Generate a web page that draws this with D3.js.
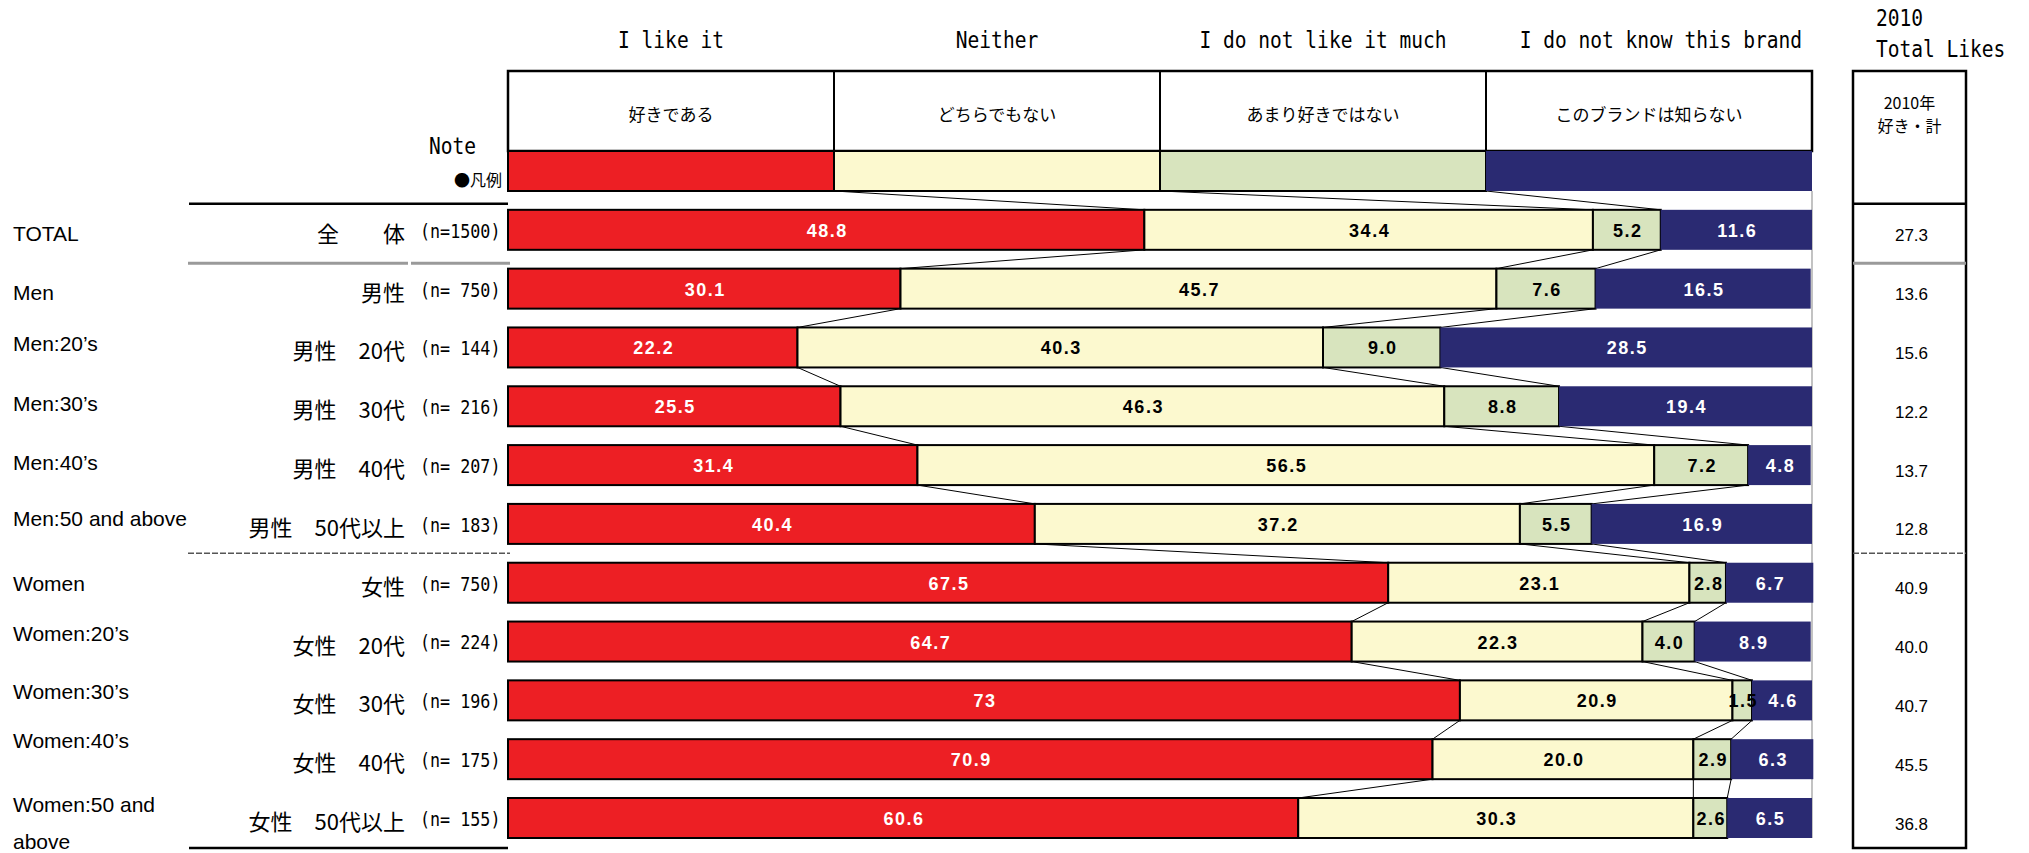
<!DOCTYPE html>
<html>
<head>
<meta charset="utf-8">
<script src="https://cdn.jsdelivr.net/npm/d3@7"></script>
<style>
  html, body { margin: 0; padding: 0; background: #fff; }
  svg { display: block; }
</style>
</head>
<body>
<svg id="chart" width="2029" height="853"></svg>
<script>
// ---- data ----
const categories   = ["I like it", "Neither", "I do not like it much", "I do not know this brand"];
const categoriesJa = ["好きである", "どちらでもない", "あまり好きではない", "このブランドは知らない"];
const groupsEn = ["TOTAL", "Men", "Men:20’s", "Men:30’s", "Men:40’s", "Men:50 and above",
                  "Women", "Women:20’s", "Women:30’s", "Women:40’s", "Women:50 and above"];
const groupsJa = ["全　　体", "男性", "男性　20代", "男性　30代", "男性　40代", "男性　50代以上",
                  "女性", "女性　20代", "女性　30代", "女性　40代", "女性　50代以上"];
const sampleSizes = [1500, 750, 144, 216, 207, 183, 750, 224, 196, 175, 155];
// shares in percent, kept as printed
const likeIt   = ["48.8", "30.1", "22.2", "25.5", "31.4", "40.4", "67.5", "64.7", "73",   "70.9", "60.6"];
const neither  = ["34.4", "45.7", "40.3", "46.3", "56.5", "37.2", "23.1", "22.3", "20.9", "20.0", "30.3"];
const dislike  = ["5.2",  "7.6",  "9.0",  "8.8",  "7.2",  "5.5",  "2.8",  "4.0",  "1.5",  "2.9",  "2.6"];
const unknown  = ["11.6", "16.5", "28.5", "19.4", "4.8",  "16.9", "6.7",  "8.9",  "4.6",  "6.3",  "6.5"];
const totalLikes2010 = ["27.3", "13.6", "15.6", "12.2", "13.7", "12.8", "40.9", "40.0", "40.7", "45.5", "36.8"];

// ---- styling / layout ----
const keys   = ["like", "neither", "dislike", "unknown"];
const colors = ["#ED1F24", "#FCF9CF", "#D8E4BE", "#2A2A72"];
const textColors = ["#fff", "#000", "#000", "#fff"];
const enDy = [4, 4, -4, -3, -3, -5, 1, -8, -9, -19, -14];
const monoFont = "'DejaVu Sans Mono', 'Liberation Mono', monospace";
const sansFont = "'Liberation Sans', Arial, sans-serif";
const jaFont = "'Noto Sans CJK JP', sans-serif";

const svg = d3.select("#chart");

const rows = groupsEn.map((g, i) => ({
  like: +likeIt[i], neither: +neither[i], dislike: +dislike[i], unknown: +unknown[i],
  labels: [likeIt[i], neither[i], dislike[i], unknown[i]]
}));
const legendRow = { like: 25, neither: 25, dislike: 25, unknown: 25 };

const x = d3.scaleLinear().domain([0, 100]).range([508, 1812]);
const y = d3.scaleBand().domain(d3.range(-1, groupsEn.length)).range([151, 838]).paddingInner(0.32).paddingOuter(0);
const bw = y.bandwidth();
const gap = y.step() - bw;

const stack = d3.stack().keys(keys);
const series = stack([legendRow, ...rows]); // index 0 = legend bar
const rowIdx = d3.range(-1, groupsEn.length);

// condensed mono helper
function monoText(sel, str, tx, ty, size, anchor) {
  return sel.append("text")
    .attr("transform", `translate(${tx},${ty}) scale(0.85,1)`)
    .attr("text-anchor", anchor || "middle")
    .attr("dominant-baseline", "central")
    .style("font-family", monoFont)
    .style("font-size", size + "px")
    .attr("fill", "#000")
    .text(str);
}

// ---- column titles ----
const gTitles = svg.append("g");
categories.forEach((c, k) => {
  const cx = k < 3 ? (x(25 * k) + x(25 * (k + 1))) / 2 : x(100);
  monoText(gTitles, c, k < 3 ? cx : x(100) - 10, 40, 23, k < 3 ? "middle" : "end");
});

// ---- header box with Japanese category names ----
const gHead = svg.append("g");
gHead.append("rect")
  .attr("x", x(0)).attr("y", 71).attr("width", x(100) - x(0)).attr("height", y(-1) - 71)
  .attr("fill", "#fff").attr("stroke", "#000").attr("stroke-width", 2.5);
[25, 50, 75].forEach(v => {
  gHead.append("line").attr("x1", x(v)).attr("x2", x(v)).attr("y1", 71).attr("y2", y(-1))
    .attr("stroke", "#000").attr("stroke-width", 2);
});
categoriesJa.forEach((c, k) => {
  gHead.append("text")
    .attr("x", (x(25 * k) + x(25 * (k + 1))) / 2).attr("y", 113)
    .attr("text-anchor", "middle").attr("dominant-baseline", "central")
    .style("font-family", jaFont).style("font-size", "17px")
    .text(c);
});

// right edge rule of the plot
svg.append("line")
  .attr("x1", x(100)).attr("x2", x(100)).attr("y1", y(-1) + bw).attr("y2", y(groupsEn.length - 1) + bw)
  .attr("stroke", "#9a9a9a").attr("stroke-width", 1.2);

// ---- connectors between stacked boundaries ----
const gConn = svg.append("g").attr("stroke", "#000").attr("stroke-width", 1);
for (let r = 0; r < rowIdx.length - 1; r++) {
  for (let k = 0; k < 3; k++) {
    gConn.append("line")
      .attr("x1", x(series[k][r][1])).attr("y1", y(rowIdx[r]) + bw)
      .attr("x2", x(series[k][r + 1][1])).attr("y2", y(rowIdx[r + 1]));
  }
}

// ---- bars ----
const gBars = svg.append("g");
series.forEach((s, k) => {
  gBars.append("g")
    .selectAll("rect")
    .data(s)
    .join("rect")
    .attr("x", d => x(d[0]))
    .attr("y", (d, i) => y(rowIdx[i]))
    .attr("width", d => x(d[1]) - x(d[0]))
    .attr("height", bw)
    .attr("fill", colors[k])
    .attr("stroke", k < 3 ? "#000" : "none")
    .attr("stroke-width", 2);
});

// value labels
series.forEach((s, k) => {
  gBars.append("g")
    .selectAll("text")
    .data(s.slice(1))
    .join("text")
    .attr("x", d => (x(d[0]) + x(d[1])) / 2 + 1)
    .attr("y", (d, i) => y(i) + bw / 2 + 1)
    .attr("text-anchor", "middle")
    .attr("dominant-baseline", "central")
    .style("font-family", sansFont)
    .style("font-weight", "bold")
    .style("font-size", "18px")
    .style("letter-spacing", "1.5px")
    .attr("fill", textColors[k])
    .text(d => d.data.labels[k]);
});

// ---- legend notes ----
monoText(svg, "Note", 476, 146, 23, "end");
svg.append("text")
  .attr("x", 502).attr("y", 179).attr("text-anchor", "end").attr("dominant-baseline", "central")
  .style("font-family", jaFont).style("font-size", "16px").text("●凡例");

// ---- row labels ----
const gLab = svg.append("g");
groupsEn.forEach((g, i) => {
  const cy = y(i) + bw / 2;
  const t = gLab.append("text")
    .attr("x", 13).attr("y", cy + enDy[i])
    .attr("dominant-baseline", "central")
    .style("font-family", sansFont).style("font-size", "21px")
    .text(g);
  // wrap long labels onto a second line
  if (t.node().getComputedTextLength() > 200) {
    const words = g.split(" ");
    const last = words.pop();
    t.text(words.join(" "));
    gLab.append("text")
      .attr("x", 13).attr("y", cy + enDy[i] + 37)
      .attr("dominant-baseline", "central")
      .style("font-family", sansFont).style("font-size", "21px")
      .text(last);
  }
  gLab.append("text")
    .attr("x", 405).attr("y", cy + 2)
    .attr("text-anchor", "end").attr("dominant-baseline", "central")
    .style("font-family", jaFont).style("font-size", "22px")
    .text(groupsJa[i]);
  gLab.append("text")
    .attr("transform", `translate(420,${cy + 1}) scale(0.88,1)`)
    .attr("dominant-baseline", "central")
    .style("font-family", monoFont).style("font-size", "19px")
    .style("white-space", "pre")
    .text(`(n=${String(sampleSizes[i]).padStart(4, " ")})`);
});

// ---- left separators ----
const midGap = i => y(i) + bw + gap / 2;
const sepTop = y(0) - 6, sep1 = midGap(0) + 4, sep2 = midGap(5), sepBot = y(groupsEn.length - 1) + bw + 10;
const gSep = svg.append("g");
gSep.append("line").attr("x1", 189).attr("x2", x(0)).attr("y1", sepTop).attr("y2", sepTop)
  .attr("stroke", "#000").attr("stroke-width", 2.5);
[[188, 408], [411, 510]].forEach(([a, b]) => {
  gSep.append("line").attr("x1", a).attr("x2", b).attr("y1", sep1).attr("y2", sep1)
    .attr("stroke", "#9a9a9a").attr("stroke-width", 3);
  gSep.append("line").attr("x1", a).attr("x2", b).attr("y1", sep2).attr("y2", sep2)
    .attr("stroke", "#555").attr("stroke-width", 1.5).attr("stroke-dasharray", "6,2");
});
gSep.append("line").attr("x1", 189).attr("x2", x(0)).attr("y1", sepBot).attr("y2", sepBot)
  .attr("stroke", "#000").attr("stroke-width", 2.5);

// ---- 2010 total likes column ----
const bx0 = 1853, bx1 = 1966, bcx = (bx0 + bx1) / 2;
monoText(svg, "2010", 1876, 18, 23, "start");
monoText(svg, "Total Likes", 1876, 49, 23, "start");
const gBox = svg.append("g");
gBox.append("rect").attr("x", bx0).attr("y", 71).attr("width", bx1 - bx0).attr("height", sepBot - 71)
  .attr("fill", "none").attr("stroke", "#000").attr("stroke-width", 2.5);
gBox.append("line").attr("x1", bx0).attr("x2", bx1).attr("y1", sepTop).attr("y2", sepTop)
  .attr("stroke", "#000").attr("stroke-width", 2.5);
gBox.append("line").attr("x1", bx0).attr("x2", bx1).attr("y1", sep1).attr("y2", sep1)
  .attr("stroke", "#9a9a9a").attr("stroke-width", 3);
gBox.append("line").attr("x1", bx0).attr("x2", bx1).attr("y1", sep2).attr("y2", sep2)
  .attr("stroke", "#555").attr("stroke-width", 1.5).attr("stroke-dasharray", "6,2");
gBox.append("text").attr("x", bcx).attr("y", 102).attr("text-anchor", "middle").attr("dominant-baseline", "central")
  .style("font-family", jaFont).style("font-size", "16px").text("2010年");
gBox.append("text").attr("x", bcx).attr("y", 125).attr("text-anchor", "middle").attr("dominant-baseline", "central")
  .style("font-family", jaFont).style("font-size", "16px").text("好き・計");
gBox.selectAll("text.val")
  .data(totalLikes2010)
  .join("text")
  .attr("class", "val")
  .attr("x", bcx + 2)
  .attr("y", (d, i) => y(i) + bw / 2 + 6)
  .attr("text-anchor", "middle").attr("dominant-baseline", "central")
  .style("font-family", sansFont).style("font-size", "17px")
  .text(d => d);
</script>
</body>
</html>
